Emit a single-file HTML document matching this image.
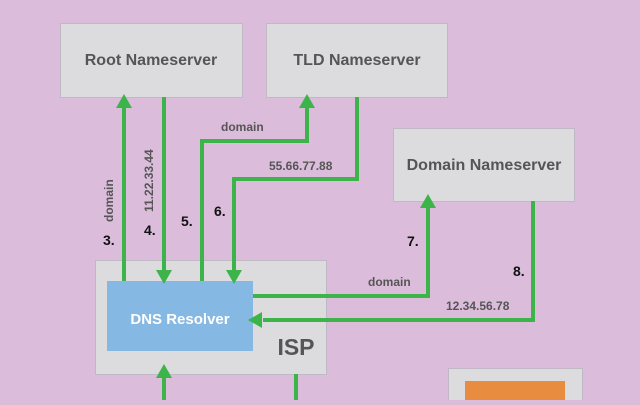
<!DOCTYPE html>
<html><head><style>
body{margin:0;width:640px;height:400px;overflow:hidden;background:#dbbddb;font-family:"Liberation Sans",sans-serif}
</style></head><body>
<svg width="640" height="400" xmlns="http://www.w3.org/2000/svg" font-family="Liberation Sans, sans-serif">
<rect x="0" y="0" width="640" height="400" fill="#dbbddb"/>
<g fill="#dcdcde" stroke="#c0b8c4" stroke-width="1">
<rect x="60.5" y="23.5" width="182" height="74"/>
<rect x="266.5" y="23.5" width="181" height="74"/>
<rect x="393.5" y="128.5" width="181" height="73"/>
<rect x="95.5" y="260.5" width="231" height="114"/>
<rect x="448.5" y="368.5" width="134" height="40"/>
</g>
<rect x="107" y="281" width="146" height="70" fill="#86b8e4"/>
<rect x="465" y="381" width="100" height="30" fill="#e88c40"/>
<g font-weight="bold" fill="#555" font-size="16" text-anchor="middle">
<text x="151" y="65">Root Nameserver</text>
<text x="357" y="65">TLD Nameserver</text>
<text x="484" y="170">Domain Nameserver</text>
<text x="180" y="324" fill="#fff" font-size="15">DNS Resolver</text>
<text x="296" y="355" font-size="23" fill="#555">ISP</text>
</g>
<g stroke="#3cb44a" stroke-width="4" fill="none">
<path d="M124 281V105"/>
<path d="M164 97V270"/>
<path d="M202 281V141H307V105"/>
<path d="M357 97V179H234V270"/>
<path d="M253 296H428V205"/>
<path d="M533 201V320H263"/>
<path d="M164 400V375"/>
<path d="M296 374V400"/>
</g>
<g fill="#3cb44a">
<polygon points="124,94 116,108 132,108"/>
<polygon points="164,284 156,270 172,270"/>
<polygon points="307,94 299,108 315,108"/>
<polygon points="234,284 226,270 242,270"/>
<polygon points="428,194 420,208 436,208"/>
<polygon points="248,320 262,312 262,328"/>
<polygon points="164,364 156,378 172,378"/>
</g>
<g fill="#555" font-weight="bold" font-size="12">
<text transform="translate(113,222) rotate(-90)">domain</text>
<text transform="translate(153,212) rotate(-90)">11.22.33.44</text>
<text x="221" y="131">domain</text>
<text x="269" y="170">55.66.77.88</text>
<text x="368" y="286">domain</text>
<text x="446" y="310">12.34.56.78</text>
</g>
<g fill="#111" font-size="14" font-weight="bold">
<text x="103" y="245">3.</text>
<text x="144" y="235">4.</text>
<text x="181" y="226">5.</text>
<text x="214" y="216">6.</text>
<text x="407" y="246">7.</text>
<text x="513" y="276">8.</text>
</g>
</svg>
</body></html>
